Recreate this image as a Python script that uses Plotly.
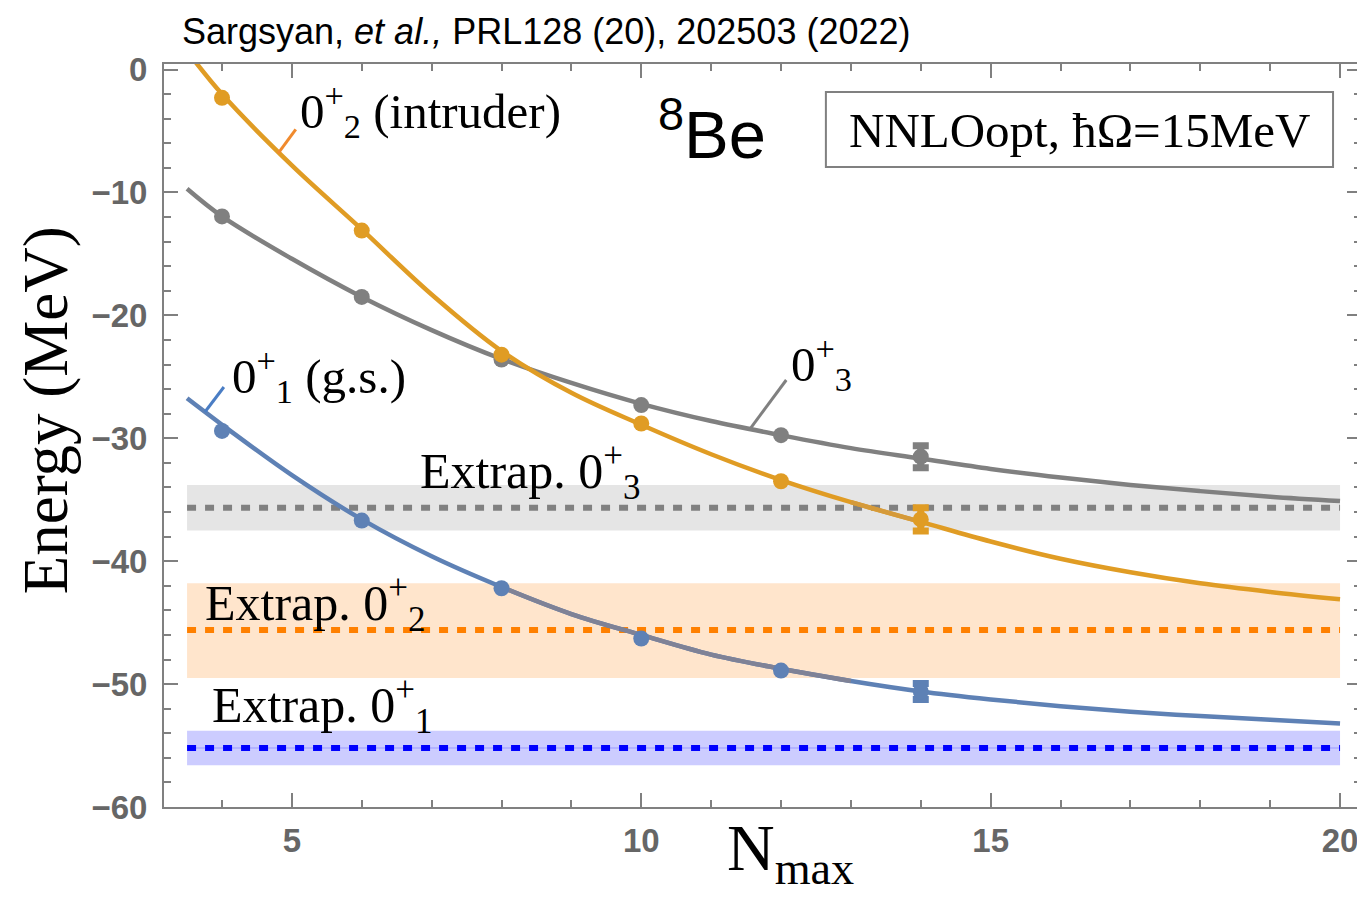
import plotly.graph_objects as go

# ---------------- data ----------------
N_pts = [4, 6, 8, 10, 12, 14]
E_gs = [-29.4, -36.7, -42.2, -46.3, -48.9, -50.6]        # 0+_1 (g.s.)
E_intr = [-2.3, -13.1, -23.2, -28.8, -33.5, -36.6]       # 0+_2 (intruder)
E_03 = [-11.95, -18.5, -23.6, -27.3, -29.75, -31.5]      # 0+_3
err_gs = [0, 0, 0, 0, 0, 0.65]
err_intr = [0, 0, 0, 0, 0, 0.95]
err_03 = [0, 0, 0, 0, 0, 0.9]

N_fit = [3.5, 4, 5, 6, 7, 8, 9, 10, 11, 12, 13, 14, 15, 16, 17, 18, 19, 20]
fit_gs = [-26.75, -28.9, -33.0, -36.6, -39.6, -42.1, -44.3, -46.0, -47.6, -48.75,
          -49.75, -50.6, -51.25, -51.8, -52.25, -52.6, -52.9, -53.2]
fit_intr = [1.5, -2.0, -7.8, -13.0, -18.3, -22.9, -26.3, -28.9, -31.3, -33.4,
            -35.2, -36.8, -38.4, -39.8, -40.9, -41.8, -42.5, -43.1]
fit_03 = [-9.7, -11.95, -15.4, -18.5, -21.2, -23.55, -25.5, -27.2, -28.6, -29.75,
          -30.8, -31.65, -32.5, -33.2, -33.8, -34.3, -34.75, -35.1]

band_N = [3.5, 20]
extrap_03 = [-35.65, -33.8, -37.5]   # centre, upper, lower
extrap_intr = [-45.6, -41.8, -49.5]
extrap_gs = [-55.2, -53.8, -56.6]

x_ticks = [5, 10, 15, 20]
y_ticks = [0, -10, -20, -30, -40, -50, -60]

# ---------------- styling ----------------
C_BLUE = "#5E81B5"
C_ORNG = "#E09C24"
C_GREY = "#808080"
SERIF = "Liberation Serif"
SANS = "Liberation Sans"

OFF = 8  # page body margin of the browser
W, H = 1365 - OFF, 907 - OFF
ML, MR, MT, MB = 164 - OFF, 2, 64 - OFF, 100
PW, PH = W - ML - MR, H - MT - MB


def px_x(px):
    return (px - OFF - ML) / PW


def px_y(py):
    return 1 - (py - OFF - MT) / PH


fig = go.Figure()

# bands
for (c, up, lo), fill in [(extrap_03, "#E5E5E5"), (extrap_intr, "#FFE5CC"), (extrap_gs, "#CCCCFF")]:
    fig.add_trace(go.Scatter(x=band_N + band_N[::-1], y=[up, up, lo, lo], fill="toself",
                             fillcolor=fill, line=dict(width=0), mode="lines",
                             hoverinfo="skip", showlegend=False))
# thin line under blue dotted line
fig.add_trace(go.Scatter(x=band_N, y=[extrap_gs[0]] * 2, mode="lines",
                         line=dict(color="#9999FF", width=1), showlegend=False))
for (c, up, lo), col in [(extrap_03, C_GREY), (extrap_intr, "#FF8000"), (extrap_gs, "#0000FF")]:
    fig.add_trace(go.Scatter(x=band_N, y=[c, c], mode="lines",
                             line=dict(color=col, width=6, dash="9px,9px"), showlegend=False))

# fitted curves
for yy, col in [(fit_03, C_GREY), (fit_intr, C_ORNG), (fit_gs, C_BLUE)]:
    fig.add_trace(go.Scatter(x=N_fit, y=yy, mode="lines", line=dict(color=col, width=4.5, shape="spline"),
                             showlegend=False))
# tinted overlaps seen in the reference
i0, i1 = N_fit.index(8), N_fit.index(13)
fig.add_trace(go.Scatter(x=N_fit[i0:i1 + 1], y=fit_gs[i0:i1 + 1], mode="lines",
                         line=dict(color="#7F8296", width=4.5, shape="spline"), showlegend=False))
j0, j1 = N_fit.index(13), N_fit.index(14)
fig.add_trace(go.Scatter(x=N_fit[j0:j1 + 1], y=fit_intr[j0:j1 + 1], mode="lines",
                         line=dict(color="#D59A3A", width=4.5, shape="spline"), showlegend=False))

# points
for yy, ee, col in [(E_03, err_03, C_GREY), (E_intr, err_intr, C_ORNG), (E_gs, err_gs, C_BLUE)]:
    fig.add_trace(go.Scatter(x=N_pts[:-1], y=yy[:-1], mode="markers",
                             marker=dict(color=col, size=16), showlegend=False))
    fig.add_trace(go.Scatter(x=N_pts[-1:], y=yy[-1:], mode="markers",
                             marker=dict(color=col, size=16),
                             error_y=dict(type="data", array=ee[-1:], color=col, thickness=7, width=8),
                             showlegend=False))

# pointer lines
for (x0, y0, x1, y1, col) in [(278.3, 153.3, 296, 129.3, "#F08A2E"),
                              (205, 412, 224, 387, "#4A7DC4"),
                              (750.7, 429.3, 787.3, 380, C_GREY)]:
    fig.add_shape(type="line", xref="paper", yref="paper",
                  x0=px_x(x0), y0=px_y(y0), x1=px_x(x1), y1=px_y(y1),
                  line=dict(color=col, width=3))

# label box
fig.add_shape(type="rect", xref="paper", yref="paper", x0=px_x(827), y0=px_y(92), x1=px_x(1335), y1=px_y(167),
              line=dict(color=C_GREY, width=2), fillcolor="white")

ann = []


def A(text, x, y, size, family=SERIF, xanchor="left", yanchor="middle", color="black", angle=0):
    ann.append(dict(text=text, x=px_x(x), y=px_y(y), xref="paper", yref="paper", showarrow=False,
                    xanchor=xanchor, yanchor=yanchor, textangle=angle,
                    font=dict(family=family, size=size, color=color)))


A("0<sup>+</sup><sub>2</sub> (intruder)", 298, 110, 49)
A("0<sup>+</sup><sub>1</sub> (g.s.)", 230, 375, 49)
A("0<sup>+</sup><sub>3</sub>", 790, 363, 49)
A("Extrap. 0<sup>+</sup><sub>3</sub>", 418, 471, 50)
A("Extrap. 0<sup>+</sup><sub>2</sub>", 203, 603, 50)
A("Extrap. 0<sup>+</sup><sub>1</sub>", 210, 705, 50)
A("NNLOopt, ħΩ=15MeV", 1081, 130, 49, xanchor="center")
A("<sup>8</sup>Be", 657, 130, 67, family=SANS)
A("Sargsyan, <i>et al.,</i> PRL128 (20), 202503 (2022)", 180, 32, 36, family=SANS)
A("Energy (MeV)", 46, 410, 63, xanchor="center", angle=-90)
A("N<sub>max</sub>", 792, 852, 66, xanchor="center")

TICKFONT = dict(family=SANS, size=33, color="#666666", weight="bold")
fig.update_layout(
    width=W, height=H, margin=dict(l=ML, r=MR, t=MT, b=MB),
    paper_bgcolor="white", plot_bgcolor="white", showlegend=False,
    annotations=ann,
    xaxis=dict(range=[3.17, 20.3], tickvals=x_ticks, ticks="inside", ticklen=14, tickwidth=2,
               tickcolor=C_GREY, showline=True, linecolor=C_GREY, linewidth=2, mirror="ticks",
               showgrid=False, zeroline=False, ticklabelstandoff=3, tickfont=TICKFONT,
               minor=dict(dtick=1, tick0=0, ticks="inside", ticklen=7, tickwidth=1.5, tickcolor=C_GREY,
                          showgrid=False)),
    yaxis=dict(range=[-60, 0.45], tickvals=y_ticks, ticks="inside", ticklen=14, tickwidth=2,
               tickcolor=C_GREY, showline=True, linecolor=C_GREY, linewidth=2, mirror="ticks",
               showgrid=False, zeroline=False, ticklabelstandoff=8, tickfont=TICKFONT,
               minor=dict(dtick=2, tick0=0, ticks="inside", ticklen=7, tickwidth=1.5, tickcolor=C_GREY,
                          showgrid=False)),
)

fig.write_html("out.html")
